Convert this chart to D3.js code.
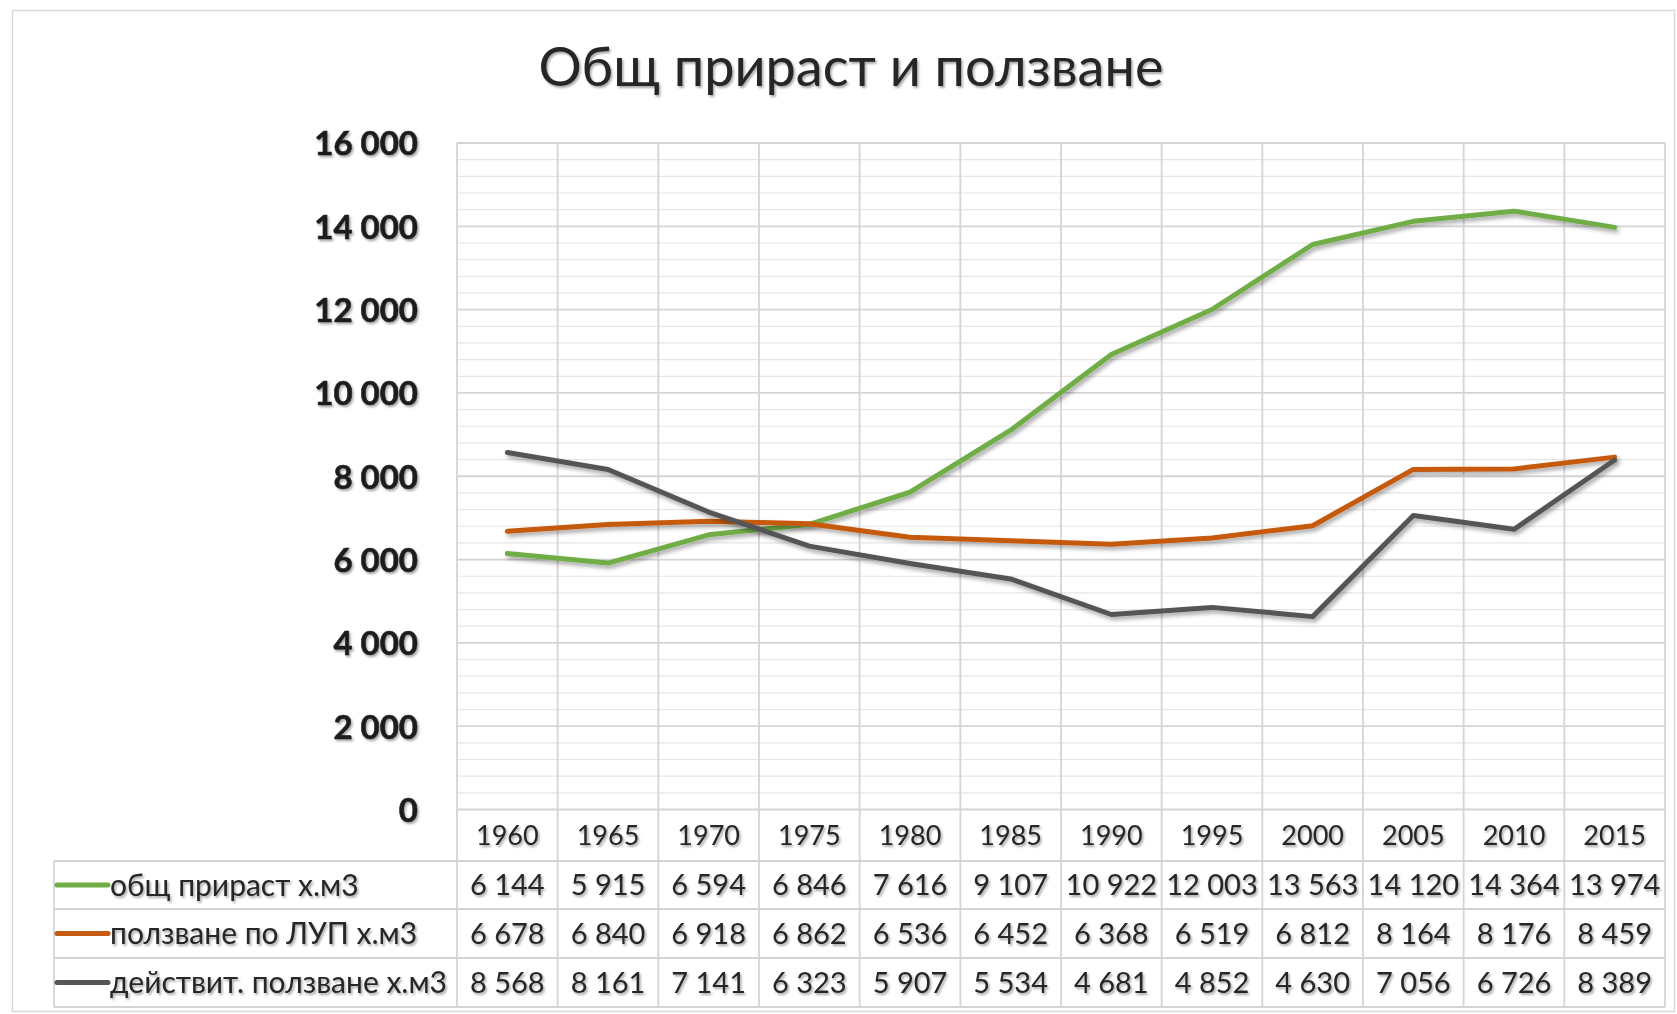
<!DOCTYPE html>
<html>
<head>
<meta charset="utf-8">
<script src="https://cdn.jsdelivr.net/npm/d3@7"></script>
<style>
  html, body { margin: 0; padding: 0; background: #ffffff; }
  svg { display: block; }
</style>
</head>
<body>
<script>
// ---------- data ----------
const years = ["1960","1965","1970","1975","1980","1985","1990","1995","2000","2005","2010","2015"];
const seriesNames = ["общ прираст х.м3", "ползване по ЛУП х.м3", "действит. ползване х.м3"];
const growthValues  = [6144, 5915, 6594, 6846, 7616, 9107, 10922, 12003, 13563, 14120, 14364, 13974];
const plannedValues = [6678, 6840, 6918, 6862, 6536, 6452, 6368, 6519, 6812, 8164, 8176, 8459];
const actualValues  = [8568, 8161, 7141, 6323, 5907, 5534, 4681, 4852, 4630, 7056, 6726, 8389];
const yTickValues = [0, 2000, 4000, 6000, 8000, 10000, 12000, 14000, 16000];
const titleText = "Общ прираст и ползване";

const seriesColors = ["#70ad47", "#c55a11", "#555555"];
const series = [growthValues, plannedValues, actualValues].map((v, i) => ({ name: seriesNames[i], values: v, color: seriesColors[i] }));

// ---------- layout ----------
const W = 1677, H = 1014;
const plotLeft = 457, plotRight = 1665, plotTop = 143, plotBottom = 809.5;
const tableLeft = 54;
const rowLines = [861, 909, 958, 1007];
const font = "Lato, 'Open Sans', sans-serif";

const svg = d3.select("body").append("svg").attr("width", W).attr("height", H);

const defs = svg.append("defs");
const f1 = defs.append("filter").attr("id", "tshadow").attr("x", "-10%").attr("y", "-20%").attr("width", "130%").attr("height", "160%");
f1.append("feDropShadow").attr("dx", 1.5).attr("dy", 2).attr("stdDeviation", 1.2).attr("flood-color", "#000").attr("flood-opacity", 0.35);
const f2 = defs.append("filter").attr("id", "lshadow").attr("x", "-5%").attr("y", "-20%").attr("width", "110%").attr("height", "140%");
f2.append("feDropShadow").attr("dx", 2).attr("dy", 3).attr("stdDeviation", 2).attr("flood-color", "#000").attr("flood-opacity", 0.35);

// outer frame
svg.append("rect").attr("x", 12.5).attr("y", 10.5).attr("width", 1662).attr("height", 1001)
  .attr("fill", "#fff").attr("stroke", "#d9d9d9").attr("stroke-width", 1.5);

// scales
const x = d3.scaleBand().domain(years).range([plotLeft, plotRight]).padding(0);
const y = d3.scaleLinear().domain([0, 16000]).range([plotBottom, plotTop]);

const locale = d3.formatLocale({ decimal: ",", thousands: " ", grouping: [3], currency: ["", ""] });
const fmt = locale.format(",");

// minor gridlines
const minorTicks = d3.range(0, 16001, 400).filter(v => v % 2000 !== 0);
svg.append("g").selectAll("line").data(minorTicks).join("line")
  .attr("x1", plotLeft).attr("x2", plotRight)
  .attr("y1", d => y(d)).attr("y2", d => y(d))
  .attr("stroke", "#e6e6e6").attr("stroke-width", 1.2);

// major gridlines
svg.append("g").selectAll("line").data(yTickValues).join("line")
  .attr("x1", plotLeft).attr("x2", plotRight)
  .attr("y1", d => y(d)).attr("y2", d => y(d))
  .attr("stroke", "#d4d4d4").attr("stroke-width", 1.8);

// vertical category lines (through plot and data table)
const vEdges = years.map(d => x(d)).concat([plotRight]);
svg.append("g").selectAll("line").data(vEdges).join("line")
  .attr("x1", d => d).attr("x2", d => d)
  .attr("y1", plotTop).attr("y2", rowLines[rowLines.length - 1])
  .attr("stroke", "#d4d4d4").attr("stroke-width", 1.8);

// table horizontal lines
svg.append("g").selectAll("line").data(rowLines).join("line")
  .attr("x1", tableLeft).attr("x2", plotRight)
  .attr("y1", d => d).attr("y2", d => d)
  .attr("stroke", "#d4d4d4").attr("stroke-width", 1.8);
svg.append("line").attr("x1", tableLeft).attr("x2", tableLeft)
  .attr("y1", rowLines[0]).attr("y2", rowLines[rowLines.length - 1])
  .attr("stroke", "#d4d4d4").attr("stroke-width", 1.8);

// y-axis labels
const yAxis = d3.axisLeft(y).tickValues(yTickValues).tickFormat(fmt).tickSize(0).tickPadding(0);
const yg = svg.append("g").attr("transform", `translate(418,0)`).call(yAxis);
yg.select(".domain").remove();
yg.selectAll("text")
  .attr("font-family", font).attr("font-size", 33).attr("font-weight", 700)
  .attr("fill", "#1f1f1f").attr("stroke", "#1f1f1f").attr("stroke-width", 0.6)
  .attr("dy", "0.36em").attr("filter", "url(#tshadow)");

// lines
const line = d3.line().x((d, i) => x(years[i]) + x.bandwidth() / 2).y(d => y(d));
svg.append("g").selectAll("path").data(series).join("path")
  .attr("d", d => line(d.values))
  .attr("fill", "none").attr("stroke", d => d.color).attr("stroke-width", 5)
  .attr("stroke-linejoin", "round").attr("stroke-linecap", "round")
  .attr("filter", "url(#lshadow)");

// title
const title = svg.append("text").attr("x", 851).attr("y", 86).attr("text-anchor", "middle")
  .attr("font-family", font).attr("font-size", 50).attr("fill", "#262626")
  .attr("filter", "url(#tshadow)").text(titleText);
const tw = title.node().getComputedTextLength();
title.attr("font-size", 50 * 625 / tw);

// x-axis (year header row)
const headerMid = (plotBottom + rowLines[0]) / 2;
const xAxis = d3.axisBottom(x).tickSize(0).tickPadding(0);
const xg = svg.append("g").attr("transform", `translate(0,${headerMid})`).call(xAxis);
xg.select(".domain").remove();
xg.selectAll("text")
  .attr("font-family", font).attr("font-size", 27).attr("fill", "#262626")
  .attr("y", 0).attr("dy", "0.36em").attr("filter", "url(#tshadow)");

// table rows
series.forEach((s, r) => {
  const mid = (rowLines[r] + rowLines[r + 1]) / 2;
  const g = svg.append("g");
  g.append("line").attr("x1", 57).attr("x2", 108).attr("y1", mid).attr("y2", mid)
    .attr("stroke", s.color).attr("stroke-width", 5).attr("stroke-linecap", "round");
  g.append("text").attr("x", 110).attr("y", mid).attr("dy", "0.36em")
    .attr("font-family", font).attr("font-size", 30).attr("fill", "#262626")
    .attr("filter", "url(#tshadow)").text(s.name);
  g.selectAll("text.v").data(s.values).join("text").attr("class", "v")
    .attr("x", (d, i) => x(years[i]) + x.bandwidth() / 2).attr("y", mid).attr("dy", "0.36em")
    .attr("text-anchor", "middle")
    .attr("font-family", font).attr("font-size", 29).attr("fill", "#262626")
    .attr("filter", "url(#tshadow)").text(d => fmt(d));
});
</script>
</body>
</html>
